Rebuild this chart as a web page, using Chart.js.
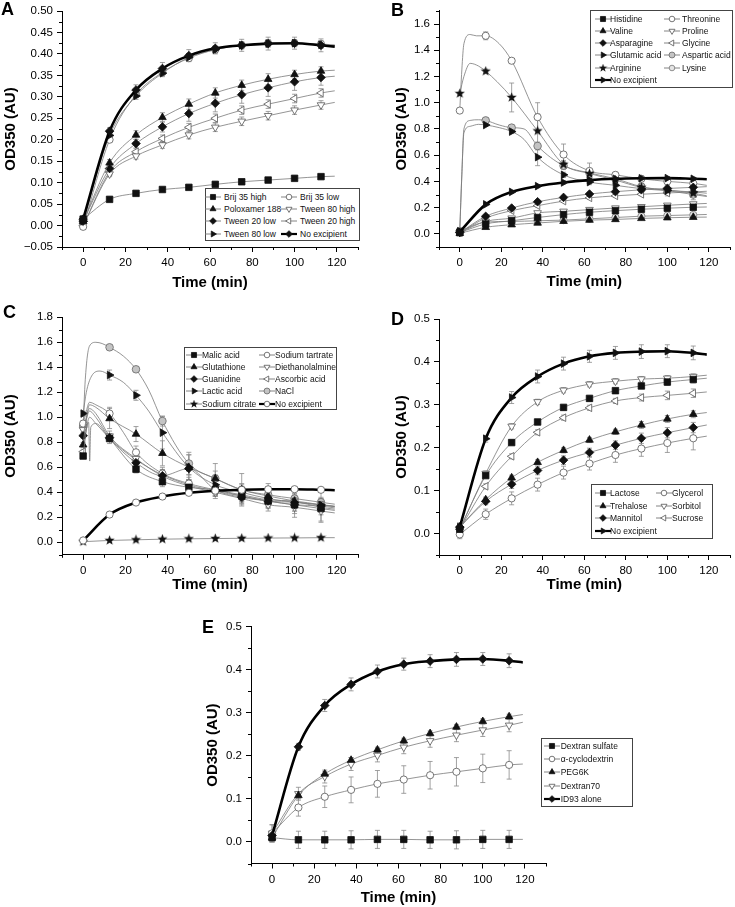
<!DOCTYPE html>
<html><head><meta charset="utf-8">
<script src="https://cdn.jsdelivr.net/npm/chart.js@4.4.1/dist/chart.umd.min.js"></script>
<style>
body{margin:0;background:#fff;width:735px;height:907px;position:relative;overflow:hidden;font-family:"Liberation Sans",Arial,sans-serif}
canvas{position:absolute}
.lbl{position:absolute;font-weight:bold;font-size:18px;line-height:18px}
.leg{position:absolute;border:1px solid #444;background:#fff;box-sizing:border-box}
.li{position:absolute;font-size:8.5px;line-height:10px;white-space:nowrap;color:#111}
</style></head><body>
<script>
// sampling times (min) and tick values
const times = [0, 12.5, 25, 37.5, 50, 62.5, 75, 87.5, 100, 112.5];
const lineEnd = 119;
const xTicks = [0, 20, 40, 60, 80, 100, 120];
const xMinor = [-10, 10, 30, 50, 70, 90, 110, 130];

// A - surfactants
const aNames = ['Brij 35 high', 'Poloxamer 188', 'Tween 20 low', 'Tween 80 low', 'Brij 35 low', 'Tween 80 high', 'Tween 20 high', 'No excipient'];
const aValues = [
  [0.015, 0.061, 0.075, 0.084, 0.089, 0.096, 0.102, 0.106, 0.110, 0.114],
  [0.010, 0.146, 0.211, 0.252, 0.283, 0.309, 0.327, 0.341, 0.352, 0.360],
  [0.010, 0.133, 0.191, 0.230, 0.261, 0.285, 0.305, 0.321, 0.335, 0.345],
  [0.010, 0.210, 0.302, 0.355, 0.392, 0.410, 0.420, 0.424, 0.425, 0.421],
  [-0.003, 0.200, 0.305, 0.357, 0.390, 0.410, 0.420, 0.425, 0.425, 0.423],
  [0.000, 0.120, 0.162, 0.188, 0.211, 0.229, 0.243, 0.256, 0.269, 0.281],
  [0.000, 0.125, 0.172, 0.203, 0.229, 0.250, 0.269, 0.283, 0.296, 0.309],
  [0.015, 0.220, 0.316, 0.366, 0.396, 0.413, 0.420, 0.424, 0.425, 0.420]
];
const aEnd = [0.115, 0.362, 0.348, 0.419, 0.421, 0.287, 0.314, 0.417];
const aErr = [
  [0.005, 0.004, 0.003, 0.003, 0.003, 0.003, 0.003, 0.003, 0.003, 0.003],
  [0.005, 0.008, 0.010, 0.011, 0.012, 0.012, 0.012, 0.013, 0.010, 0.010],
  [0.005, 0.008, 0.010, 0.012, 0.018, 0.020, 0.020, 0.020, 0.020, 0.018],
  [0.005, 0.005, 0.008, 0.008, 0.008, 0.008, 0.008, 0.008, 0.008, 0.008],
  [0.005, 0.005, 0.006, 0.006, 0.006, 0.006, 0.008, 0.008, 0.008, 0.008],
  [0.004, 0.006, 0.007, 0.008, 0.009, 0.010, 0.010, 0.010, 0.010, 0.010],
  [0.004, 0.006, 0.007, 0.008, 0.009, 0.010, 0.010, 0.010, 0.010, 0.010],
  [0.008, 0.008, 0.012, 0.014, 0.014, 0.013, 0.014, 0.015, 0.014, 0.015]
];
const aYTicks = [-0.05, 0, 0.05, 0.1, 0.15, 0.2, 0.25, 0.3, 0.35, 0.4, 0.45, 0.5];
const aYMinor = [-0.025, 0.025, 0.075, 0.125, 0.175, 0.225, 0.275, 0.325, 0.375, 0.425, 0.475];

// B - amino acids
const bNames = ['Histidine', 'Valine', 'Asparagine', 'Glutamic acid', 'Arginine', 'No excipient', 'Threonine', 'Proline', 'Glycine', 'Aspartic acid', 'Lysine'];
const bValues = [
  [0.010, 0.076, 0.100, 0.125, 0.147, 0.165, 0.177, 0.188, 0.196, 0.203],
  [0.005, 0.050, 0.070, 0.083, 0.096, 0.105, 0.110, 0.118, 0.123, 0.127],
  [0.010, 0.134, 0.197, 0.245, 0.278, 0.304, 0.322, 0.336, 0.346, 0.355],
  [0.020, 0.830, 0.780, 0.585, 0.450, 0.395, 0.370, 0.345, 0.330, 0.320],
  [1.070, 1.240, 1.040, 0.785, 0.530, 0.460, 0.410, 0.355, 0.335, 0.310],
  [0.015, 0.225, 0.320, 0.364, 0.392, 0.410, 0.420, 0.424, 0.425, 0.420],
  [0.940, 1.510, 1.320, 0.890, 0.605, 0.480, 0.450, 0.420, 0.400, 0.385],
  [0.010, 0.095, 0.120, 0.160, 0.172, 0.185, 0.197, 0.207, 0.218, 0.228],
  [0.010, 0.120, 0.177, 0.215, 0.250, 0.275, 0.290, 0.302, 0.312, 0.320],
  [0.020, 0.865, 0.810, 0.670, 0.520, 0.465, 0.420, 0.360, 0.330, 0.300],
  [0.020, 0.090, 0.095, 0.100, 0.105, 0.115, 0.125, 0.135, 0.140, 0.145]
];
const bEnd = [0.205, 0.128, 0.360, 0.310, 0.290, 0.417, 0.370, 0.232, 0.325, 0.285, 0.148];
const bExtra = [
  null, null, null,
  [[1, 0.45], [2, 0.77], [5, 0.82], [9, 0.835], [19, 0.81], [31, 0.72]],
  [[2, 1.2], [5, 1.3], [9, 1.28], [18, 1.16]],
  null,
  [[1, 1.25], [2, 1.45], [5, 1.52], [8, 1.51], [19, 1.45]],
  null, null,
  [[1, 0.45], [2, 0.8], [5, 0.865], [9, 0.87], [19, 0.83], [31, 0.8]],
  null
];
const bErr = [
  [0.005, 0.008, 0.008, 0.010, 0.010, 0.010, 0.010, 0.010, 0.010, 0.010],
  [0.005, 0.006, 0.006, 0.006, 0.006, 0.006, 0.006, 0.006, 0.006, 0.006],
  [0.005, 0.010, 0.012, 0.012, 0.012, 0.012, 0.012, 0.012, 0.012, 0.012],
  [0.010, 0.010, 0.015, 0.065, 0.020, 0.020, 0.020, 0.020, 0.020, 0.020],
  [0.010, 0.015, 0.110, 0.130, 0.030, 0.030, 0.030, 0.030, 0.030, 0.030],
  [0.008, 0.008, 0.012, 0.012, 0.012, 0.012, 0.012, 0.012, 0.012, 0.012],
  [0.010, 0.030, 0.015, 0.110, 0.080, 0.060, 0.020, 0.020, 0.020, 0.020],
  [0.005, 0.010, 0.010, 0.010, 0.010, 0.010, 0.010, 0.010, 0.010, 0.010],
  [0.005, 0.010, 0.010, 0.010, 0.010, 0.010, 0.010, 0.010, 0.010, 0.010],
  [0.010, 0.015, 0.015, 0.030, 0.030, 0.030, 0.040, 0.040, 0.040, 0.040],
  [0.005, 0.010, 0.010, 0.010, 0.010, 0.010, 0.010, 0.010, 0.010, 0.010]
];
const bYTicks = [0, 0.2, 0.4, 0.6, 0.8, 1.0, 1.2, 1.4, 1.6];
const bYMinor = [-0.1, 0.1, 0.3, 0.5, 0.7, 0.9, 1.1, 1.3, 1.5, 1.7];

// C - salts and acids
const cNames = ['Malic acid', 'Glutathione', 'Guanidine', 'Lactic acid', 'Sodium citrate', 'Sodium tartrate', 'Diethanolalmine', 'Ascorbic acid', 'NaCl', 'No excipient'];
const cValues = [
  [0.690, 0.830, 0.585, 0.485, 0.440, 0.420, 0.370, 0.330, 0.300, 0.270],
  [0.780, 0.990, 0.866, 0.712, 0.600, 0.510, 0.420, 0.370, 0.330, 0.280],
  [0.853, 0.837, 0.637, 0.533, 0.590, 0.420, 0.360, 0.330, 0.300, 0.290],
  [1.030, 1.338, 1.176, 0.877, 0.600, 0.460, 0.400, 0.350, 0.320, 0.300],
  [0.005, 0.015, 0.020, 0.025, 0.028, 0.030, 0.032, 0.034, 0.035, 0.037],
  [0.950, 1.030, 0.720, 0.550, 0.470, 0.420, 0.380, 0.340, 0.330, 0.300],
  [0.900, 0.850, 0.670, 0.530, 0.450, 0.400, 0.350, 0.300, 0.280, 0.250],
  [0.725, 0.830, 0.660, 0.540, 0.460, 0.410, 0.370, 0.330, 0.320, 0.300],
  [0.930, 1.560, 1.384, 0.970, 0.630, 0.510, 0.420, 0.380, 0.350, 0.320],
  [0.015, 0.222, 0.318, 0.366, 0.396, 0.413, 0.420, 0.424, 0.425, 0.420]
];
const cEnd = [0.255, 0.265, 0.275, 0.285, 0.037, 0.285, 0.235, 0.29, 0.305, 0.417];
const cExtra = [
  [[1.5, 0.9], [3, 1.0], [6, 0.95]],
  [[1.5, 0.98], [3, 1.1], [6, 1.08]],
  [[1.5, 0.98], [3, 1.05], [6, 1.0]],
  [[1.5, 1.2], [4, 1.33], [8, 1.37], [19, 1.28], [31, 1.05]],
  null,
  [[1.5, 1.05], [3, 1.12], [6, 1.1], [19, 0.88]],
  [[1.5, 1.0], [3, 1.07], [6, 1.03]],
  [[1.5, 0.9], [2.6, 0.96], [3.1, 0.65], [3.6, 0.92], [6, 0.95]],
  [[1, 1.3], [3, 1.57], [6, 1.6], [9, 1.59], [19, 1.49], [31, 1.22]],
  null
];
const cErr = [
  [0.02, 0.02, 0.03, 0.04, 0.05, 0.05, 0.05, 0.05, 0.05, 0.05],
  [0.02, 0.08, 0.06, 0.10, 0.10, 0.12, 0.13, 0.10, 0.10, 0.12],
  [0.02, 0.03, 0.05, 0.05, 0.05, 0.05, 0.05, 0.05, 0.05, 0.05],
  [0.02, 0.04, 0.04, 0.13, 0.10, 0.08, 0.06, 0.05, 0.05, 0.05],
  [0.003, 0.003, 0.003, 0.003, 0.003, 0.003, 0.003, 0.003, 0.003, 0.003],
  [0.02, 0.05, 0.05, 0.05, 0.05, 0.05, 0.05, 0.05, 0.05, 0.05],
  [0.02, 0.04, 0.04, 0.05, 0.05, 0.05, 0.05, 0.05, 0.08, 0.08],
  [0.02, 0.04, 0.04, 0.04, 0.04, 0.04, 0.04, 0.04, 0.04, 0.04],
  [0.02, 0.02, 0.02, 0.04, 0.09, 0.06, 0.05, 0.05, 0.04, 0.04],
  [0.008, 0.008, 0.010, 0.010, 0.010, 0.010, 0.010, 0.010, 0.010, 0.010]
];
const cYTicks = [0, 0.2, 0.4, 0.6, 0.8, 1.0, 1.2, 1.4, 1.6, 1.8];
const cYMinor = [-0.1, 0.1, 0.3, 0.5, 0.7, 0.9, 1.1, 1.3, 1.5, 1.7];

// D - sugars and polyols
const dNames = ['Lactose', 'Trehalose', 'Mannitol', 'No excipient', 'Glycerol', 'Sorbitol', 'Sucrose'];
const dValues = [
  [0.010, 0.135, 0.212, 0.260, 0.294, 0.315, 0.333, 0.344, 0.353, 0.359],
  [0.015, 0.079, 0.130, 0.166, 0.194, 0.218, 0.237, 0.253, 0.267, 0.278],
  [0.015, 0.075, 0.115, 0.147, 0.171, 0.189, 0.206, 0.222, 0.235, 0.247],
  [0.015, 0.221, 0.317, 0.366, 0.396, 0.413, 0.421, 0.424, 0.425, 0.421],
  [-0.002, 0.045, 0.082, 0.114, 0.142, 0.163, 0.183, 0.198, 0.211, 0.222],
  [0.010, 0.140, 0.250, 0.307, 0.334, 0.348, 0.355, 0.360, 0.362, 0.366],
  [0.010, 0.110, 0.180, 0.236, 0.270, 0.293, 0.309, 0.317, 0.322, 0.327]
];
const dEnd = [0.362, 0.282, 0.253, 0.417, 0.227, 0.369, 0.330];
const dErr = [
  [0.006, 0.006, 0.006, 0.006, 0.006, 0.006, 0.006, 0.006, 0.008, 0.008],
  [0.006, 0.006, 0.006, 0.006, 0.006, 0.006, 0.006, 0.008, 0.008, 0.008],
  [0.006, 0.008, 0.010, 0.010, 0.010, 0.010, 0.010, 0.012, 0.012, 0.012],
  [0.010, 0.008, 0.014, 0.015, 0.015, 0.014, 0.015, 0.016, 0.015, 0.016],
  [0.010, 0.012, 0.015, 0.015, 0.015, 0.015, 0.017, 0.018, 0.022, 0.027],
  [0.006, 0.006, 0.006, 0.006, 0.006, 0.006, 0.006, 0.006, 0.006, 0.006],
  [0.006, 0.006, 0.006, 0.006, 0.006, 0.006, 0.006, 0.008, 0.010, 0.010]
];
const dYTicks = [0, 0.1, 0.2, 0.3, 0.4, 0.5];
const dYMinor = [-0.05, 0.05, 0.15, 0.25, 0.35, 0.45];

// E - polymers
const eNames = ['Dextran sulfate', 'α-cyclodextrin', 'PEG6K', 'Dextran70', 'ID93 alone'];
const eValues = [
  [0.010, 0.005, 0.005, 0.005, 0.006, 0.006, 0.005, 0.005, 0.006, 0.006],
  [0.020, 0.080, 0.105, 0.121, 0.135, 0.145, 0.155, 0.163, 0.171, 0.179],
  [0.010, 0.108, 0.158, 0.190, 0.214, 0.235, 0.252, 0.267, 0.280, 0.291],
  [0.020, 0.112, 0.152, 0.181, 0.201, 0.220, 0.235, 0.248, 0.260, 0.271],
  [0.015, 0.221, 0.317, 0.366, 0.396, 0.413, 0.420, 0.424, 0.425, 0.421]
];
const eEnd = [0.006, 0.181, 0.296, 0.278, 0.417];
const eErr = [
  [0.010, 0.020, 0.020, 0.021, 0.021, 0.021, 0.020, 0.021, 0.021, 0.021],
  [0.020, 0.020, 0.025, 0.030, 0.031, 0.032, 0.032, 0.033, 0.033, 0.033],
  [0.006, 0.006, 0.006, 0.006, 0.006, 0.006, 0.006, 0.006, 0.006, 0.006],
  [0.020, 0.015, 0.015, 0.015, 0.015, 0.015, 0.015, 0.015, 0.015, 0.015],
  [0.010, 0.008, 0.014, 0.015, 0.015, 0.014, 0.015, 0.016, 0.015, 0.016]
];
const eYTicks = [0, 0.1, 0.2, 0.3, 0.4, 0.5];
const eYMinor = [-0.05, 0.05, 0.15, 0.25, 0.35, 0.45];

// marker styles
const starImg = document.createElement('canvas');
starImg.width = starImg.height = 11;
(function () {
  const sc = starImg.getContext('2d');
  sc.fillStyle = '#111';
  sc.beginPath();
  for (let k = 0; k < 10; k++) {
    const r = k % 2 ? 2.2 : 5.3, a = -Math.PI / 2 + k * Math.PI / 5;
    sc.lineTo(5.5 + r * Math.cos(a), 5.5 + r * Math.sin(a));
  }
  sc.closePath();
  sc.fill();
})();

const STY = {
  sqF:   { shape: 'rect', r: 4.6, fill: '#111', stroke: '#111' },
  triF:  { shape: 'triangle', r: 4.4, fill: '#111', stroke: '#111' },
  diaF:  { shape: 'rectRot', r: 4.3, fill: '#111', stroke: '#111' },
  rtriF: { shape: 'triangle', rot: 90, r: 4.4, fill: '#111', stroke: '#111' },
  starF: { shape: 'star', r: 4.5, fill: '#111', stroke: '#111' },
  circO: { shape: 'circle', r: 3.6, fill: '#fff', stroke: '#555' },
  dtriO: { shape: 'triangle', rot: 180, r: 4.4, fill: '#fff', stroke: '#555' },
  ltriO: { shape: 'triangle', rot: -90, r: 4.4, fill: '#fff', stroke: '#555' },
  crossG:{ shape: 'circle', r: 3.8, fill: '#c4c4c4', stroke: '#666' },
  circG: { shape: 'circle', r: 3.6, fill: '#e4e4e4', stroke: '#777' }
};

const panels = [
  { letter: 'A', lpos: [1, 0], names: aNames, vals: aValues, ends: aEnd, extras: null, errs: aErr,
    styles: ['sqF', 'triF', 'diaF', 'rtriF', 'circO', 'dtriO', 'ltriO', 'diaF'], bold: 7,
    box: [0, 0, 367, 300], pad: { top: 11, right: 9 }, yW: 62, xH: 53, yTP: 2, xTP: 8,
    yMin: -0.05, yMax: 0.5, yTicks: aYTicks, yMinor: aYMinor, dec: 2,
    legend: { box: [205, 188, 155, 53], y0: 197, dy: 12.2, sym: [213, 289], txt: [224, 300], left: 4 } },
  { letter: 'B', lpos: [391, 1], names: bNames, vals: bValues, ends: bEnd, extras: bExtra, errs: bErr,
    styles: ['sqF', 'triF', 'diaF', 'rtriF', 'starF', 'rtriF', 'circO', 'dtriO', 'ltriO', 'crossG', 'circG'], bold: 5,
    box: [367, 0, 368, 300], pad: { top: 10, right: 2 }, yW: 72, xH: 53, yTP: 25.7, xTP: 9,
    yMin: -0.1, yMax: 1.7, yTicks: bYTicks, yMinor: bYMinor, dec: 1,
    legend: { box: [590, 10, 143, 78], y0: 18.5, dy: 12.3, sym: [603, 672], txt: [610, 682], left: 6 } },
  { letter: 'C', lpos: [3, 302.5], names: cNames, vals: cValues, ends: cEnd, extras: cExtra, errs: cErr,
    styles: ['sqF', 'triF', 'diaF', 'rtriF', 'starF', 'circO', 'dtriO', 'ltriO', 'crossG', 'circO'], bold: 9,
    box: [0, 300, 367, 300], pad: { top: 17.3, right: 9 }, yW: 62, xH: 45.2, yTP: 2, xTP: 6,
    yMin: -0.1, yMax: 1.8, yTicks: cYTicks, yMinor: cYMinor, dec: 1,
    legend: { box: [183.5, 347, 153, 63], y0: 354.5, dy: 12.25, sym: [193.7, 266.7], txt: [202, 275], left: 5 } },
  { letter: 'D', lpos: [391, 310], names: dNames, vals: dValues, ends: dEnd, extras: null, errs: dErr,
    styles: ['sqF', 'triF', 'diaF', 'rtriF', 'circO', 'dtriO', 'ltriO'], bold: 3,
    box: [367, 300, 368, 300], pad: { top: 19, right: 2 }, yW: 72, xH: 45, yTP: 25.7, xTP: 6,
    yMin: -0.05, yMax: 0.5, yTicks: dYTicks, yMinor: dYMinor, dec: 1,
    legend: { box: [591, 484, 122, 55], y0: 493.3, dy: 12.45, sym: [603.3, 664], txt: [610, 672], left: 4 } },
  { letter: 'E', lpos: [202, 618], names: eNames, vals: eValues, ends: eEnd, extras: null, errs: eErr,
    styles: ['sqF', 'circO', 'triF', 'dtriO', 'diaF'], bold: 4,
    box: [180, 600, 380, 307], pad: { top: 26.7, right: 14 }, yW: 71, xH: 43.5, yTP: 24, xTP: 0,
    yMin: -0.05, yMax: 0.5, yTicks: eYTicks, yMinor: eYMinor, dec: 1,
    legend: { box: [541, 738, 92, 69], y0: 745.7, dy: 13.3, sym: [551.7], txt: [560.7], left: 5 } }
];

Chart.defaults.font.family = '"Liberation Sans", Arial, sans-serif';
Chart.defaults.color = '#000';

const errorBars = {
  id: 'errorBars',
  beforeDatasetsDraw(chart) {
    const ctx = chart.ctx, xs = chart.scales.x, ys = chart.scales.y;
    ctx.save();
    ctx.strokeStyle = '#8a8a8a';
    ctx.lineWidth = 0.8;
    chart.data.datasets.forEach(ds => {
      ds.data.forEach(p => {
        if (!p.m || !p.e) return;
        const x = xs.getPixelForValue(p.x);
        const y1 = ys.getPixelForValue(p.y - p.e), y2 = ys.getPixelForValue(p.y + p.e);
        ctx.beginPath();
        ctx.moveTo(x, y1); ctx.lineTo(x, y2);
        ctx.moveTo(x - 2.5, y1); ctx.lineTo(x + 2.5, y1);
        ctx.moveTo(x - 2.5, y2); ctx.lineTo(x + 2.5, y2);
        ctx.stroke();
      });
    });
    ctx.restore();
  }
};

const minorTicks = {
  id: 'minorTicks',
  afterDraw(chart, args, opts) {
    const { ctx, chartArea: a, scales: { x, y } } = chart;
    ctx.save();
    ctx.strokeStyle = '#000';
    ctx.lineWidth = 1;
    ctx.beginPath();
    (opts.xs || []).forEach(v => {
      const px = Math.round(x.getPixelForValue(v)) + 0.5;
      ctx.moveTo(px, a.bottom); ctx.lineTo(px, a.bottom + 3);
    });
    (opts.ys || []).forEach(v => {
      const py = Math.round(y.getPixelForValue(v)) + 0.5;
      ctx.moveTo(a.left, py); ctx.lineTo(a.left - 3, py);
    });
    ctx.stroke();
    ctx.restore();
  }
};

function seriesPoints(vals, end, extra, errs) {
  const pts = vals.map((v, i) => ({ x: times[i], y: v, m: true, e: errs ? errs[i] : 0 }));
  (extra || []).forEach(p => pts.push({ x: p[0], y: p[1], m: false }));
  pts.push({ x: lineEnd, y: end, m: false });
  return pts.sort((a, b) => a.x - b.x);
}

function drawSym(cv, st, bold) {
  const c = cv.getContext('2d');
  c.strokeStyle = bold ? '#000' : '#777';
  c.lineWidth = bold ? 2.2 : 0.9;
  c.beginPath(); c.moveTo(1, 5); c.lineTo(17, 5); c.stroke();
  if (st.shape === 'star') {
    c.drawImage(starImg, 9 - 4.5, 5 - 4.5, 9, 9);
    return;
  }
  c.fillStyle = st.fill;
  c.strokeStyle = st.stroke;
  c.lineWidth = 0.8;
  if (Chart.helpers && Chart.helpers.drawPoint) {
    Chart.helpers.drawPoint(c, { pointStyle: st.shape, rotation: st.rot || 0, radius: st.r * 0.78, borderWidth: 0.8 }, 9, 5);
  } else {
    c.beginPath(); c.arc(9, 5, 3, 0, Math.PI * 2); c.fill(); c.stroke();
  }
}

function fmt(v, dec) {
  const s = Math.abs(v).toFixed(dec);
  return v < -1e-9 ? '\u2212' + s : s;
}

panels.forEach(p => {
  const cv = document.createElement('canvas');
  cv.width = p.box[2]; cv.height = p.box[3];
  cv.style.left = p.box[0] + 'px'; cv.style.top = p.box[1] + 'px';
  document.body.appendChild(cv);

  const datasets = p.names.map((name, i) => {
    const st = STY[p.styles[i]];
    const bold = i === p.bold;
    return {
      label: name,
      data: seriesPoints(p.vals[i], p.ends[i], p.extras ? p.extras[i] : null, p.errs[i]),
      borderColor: bold ? '#000' : '#7a7a7a',
      borderWidth: bold ? 2.6 : 0.8,
      cubicInterpolationMode: 'monotone',
      fill: false,
      pointStyle: st.shape === 'star' ? starImg : st.shape,
      pointRotation: st.rot || 0,
      pointRadius: c => (c.raw && c.raw.m) ? st.r : 0,
      pointBackgroundColor: st.fill,
      pointBorderColor: st.stroke,
      pointBorderWidth: 0.8,
      order: bold ? -1 : 0
    };
  });

  new Chart(cv, {
    type: 'line',
    data: { datasets },
    plugins: [errorBars, minorTicks],
    options: {
      responsive: false,
      animation: false,
      events: [],
      layout: { padding: { top: p.pad.top, right: p.pad.right, left: 0, bottom: 0 } },
      plugins: {
        legend: { display: false },
        tooltip: { enabled: false },
        minorTicks: { xs: xMinor, ys: p.yMinor }
      },
      scales: {
        x: {
          type: 'linear', min: -10, max: 130,
          afterBuildTicks: s => { s.ticks = xTicks.map(v => ({ value: v })); },
          afterFit: s => { s.height = p.xH; },
          ticks: { font: { size: 11.5 }, color: '#000', padding: 4, maxRotation: 0, autoSkip: false },
          grid: { drawOnChartArea: false, drawTicks: true, tickLength: 5, tickColor: '#000' },
          border: { display: true, color: '#000', width: 1 },
          title: { display: true, text: 'Time (min)', font: { size: 15, weight: 'bold' }, color: '#000', padding: { top: 0, bottom: p.xTP } }
        },
        y: {
          type: 'linear', min: p.yMin, max: p.yMax,
          afterBuildTicks: s => { s.ticks = p.yTicks.map(v => ({ value: v })); },
          afterFit: s => { s.width = p.yW; },
          ticks: { font: { size: 11.5 }, color: '#000', padding: 4, autoSkip: false, callback: v => fmt(v, p.dec) },
          grid: { drawOnChartArea: false, drawTicks: true, tickLength: 5, tickColor: '#000' },
          border: { display: true, color: '#000', width: 1 },
          title: { display: true, text: 'OD350 (AU)', font: { size: 15, weight: 'bold' }, color: '#000', padding: { top: p.yTP, bottom: 0 } }
        }
      }
    }
  });

  // panel letter
  const l = document.createElement('div');
  l.className = 'lbl';
  l.textContent = p.letter;
  l.style.left = p.lpos[0] + 'px'; l.style.top = p.lpos[1] + 'px';
  document.body.appendChild(l);

  // legend box
  const g = p.legend;
  const bx = document.createElement('div');
  bx.className = 'leg';
  bx.style.left = g.box[0] + 'px'; bx.style.top = g.box[1] + 'px';
  bx.style.width = g.box[2] + 'px'; bx.style.height = g.box[3] + 'px';
  document.body.appendChild(bx);
  p.names.forEach((name, i) => {
    const col = i < g.left ? 0 : 1;
    const row = col ? i - g.left : i;
    const y = g.y0 + row * g.dy;
    const sc = document.createElement('canvas');
    sc.width = 18; sc.height = 10;
    sc.style.left = (g.sym[col] - 9) + 'px'; sc.style.top = (y - 5) + 'px';
    document.body.appendChild(sc);
    drawSym(sc, STY[p.styles[i]], i === p.bold);
    const t = document.createElement('div');
    t.className = 'li';
    t.textContent = name;
    t.style.left = g.txt[col] + 'px'; t.style.top = (y - 5) + 'px';
    document.body.appendChild(t);
  });
});
</script>
</body></html>
